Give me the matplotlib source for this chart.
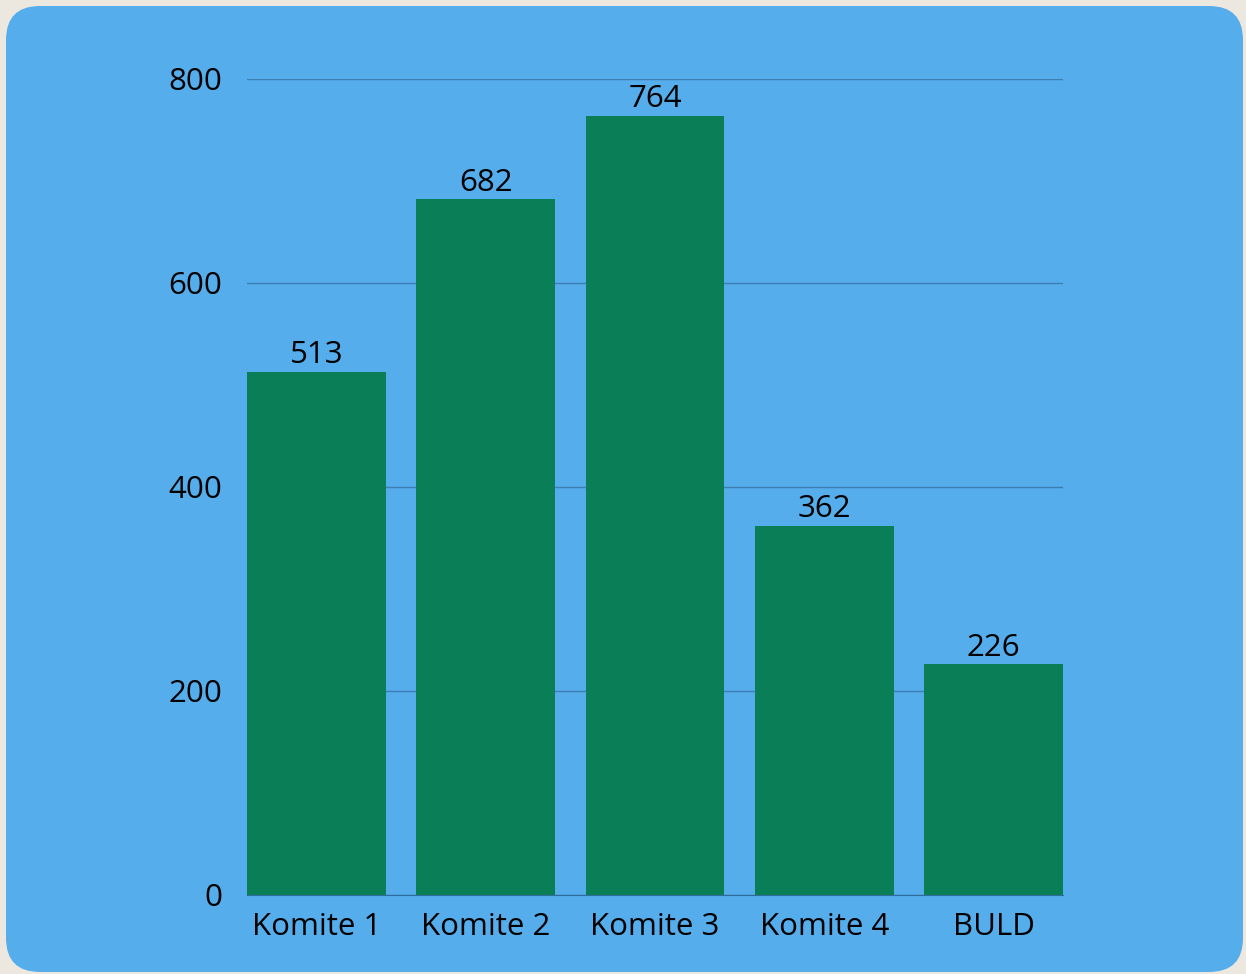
import matplotlib.pyplot as plt
from matplotlib.patches import FancyBboxPatch

categories = ['Komite 1', 'Komite 2', 'Komite 3', 'Komite 4', 'BULD']
values = [513, 682, 764, 362, 226]
yticks = [0, 200, 400, 600, 800]

plt.rcParams['font.family'] = ['Open Sans', 'DejaVu Sans']

fig = plt.figure(figsize=(12.46, 9.74), dpi=100)
fig.patch.set_facecolor('#ECE8DF')

# rounded blue card behind the chart
card = FancyBboxPatch((0.06, 0.02), 12.37, 9.66,
                      boxstyle='round,pad=0,rounding_size=0.34',
                      transform=fig.dpi_scale_trans,
                      facecolor='#55ADEC', edgecolor='none', zorder=-1)
fig.patches.append(card)

ax = fig.add_axes([247 / 1246, 1 - 895 / 974, (1063 - 247) / 1246, (895 - 79) / 974])
ax.set_facecolor('none')
ax.set_zorder(1)

x = range(len(categories))
bars = ax.bar(x, values, width=0.82, color='#0A7E57', zorder=2)
for b, v in zip(bars, values):
    ax.annotate(str(v), (b.get_x() + b.get_width() / 2, v),
                xytext=(0, 1), textcoords='offset points',
                ha='center', va='bottom', fontsize=22.5, color='black')

ax.set_xlim(-0.41, len(categories) - 1 + 0.41)
ax.set_ylim(0, 800)
ax.set_yticks(yticks)
ax.set_xticks(list(x))
ax.set_xticklabels(categories)
ax.grid(axis='y', color='#3C7FB0', linewidth=1, zorder=1)
ax.set_axisbelow(True)

for s in ['top', 'right', 'left']:
    ax.spines[s].set_visible(False)
ax.spines['bottom'].set_color('#2F6E9C')
ax.spines['bottom'].set_zorder(3)

ax.tick_params(axis='both', length=0, labelsize=22.5, colors='black')
ax.tick_params(axis='y', pad=18)
ax.tick_params(axis='x', pad=12)

fig.savefig('out.png', dpi=100, facecolor=fig.get_facecolor())
